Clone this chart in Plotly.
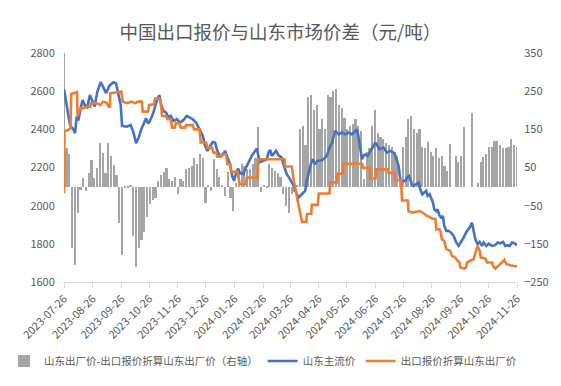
import pandas as pd
import plotly.graph_objects as go

start_date = "2023-07-26"
tick_labels = ["2023-07-26", "2023-08-26", "2023-09-26", "2023-10-26", "2023-11-26",
               "2023-12-26", "2024-01-26", "2024-02-26", "2024-03-26", "2024-04-26",
               "2024-05-26", "2024-06-26", "2024-07-26", "2024-08-26", "2024-09-26",
               "2024-10-26", "2024-11-26"]

# 山东出厂价-出口报价折算山东出厂价 (right axis), one value every 3 days from start
spread_values = [350, 100, 85, -160, -205, -70, -8, 22, -12, 35, 70, 22, 48, 113, 87, 35, 113, 79,
                 57, 30, -96, -180, -5, -5, 3, -130, -210, -160, -140, -120, -80, -45, -35, -30,
                 15, 30, 38, 50, 20, 15, 25, -20, 20, 15, 45, 50, 55, 75, 60, 85, 75, -42, 5, -12,
                 72, 45, 25, 5, -25, 38, -30, -65, 10, 40, 60, 55, 45, 45, 60, 75, 155, -15, 5, -5,
                 60, 50, 40, 35, 25, -20, -50, -70, -20, -15, 5, 150, 160, 110, 235, 240, 200, 215,
                 150, 176, 150, 240, 235, 250, 255, 215, 205, 180, 150, 160, 165, 177, 160, 145, 20,
                 90, 100, 160, 200, 140, 130, 125, 115, 110, 105, 90, 80, 30, 105, 130, 177, 185,
                 150, 140, 150, 103, 100, 118, 90, 80, 100, 75, 80, 55, 40, 112, 0, 80, 65, 80, 155,
                 0, 0, 193, 0, 10, 65, 78, 85, 105, 105, 120, 120, 110, 100, 100, 105, 125, 110, 105]

# 山东主流价: days after start, price
main_days = [0, 3.6, 6.5, 10, 11.9, 13.7, 15.5, 18, 20, 22.7, 25, 28, 30.6, 33, 36, 39.6, 42.5, 45.4,
             49, 53.3, 56.2, 58.7, 61.2, 62.7, 67.7, 72, 75, 77.8, 80.7, 83.5, 86.4, 88.6, 90.8, 92.9,
             95.8, 98.3, 100.8, 103, 104.8, 107.3, 110.2, 112.7, 115.2, 118.1, 121.7, 125.3, 128.9,
             132.5, 135.4, 139, 142.6, 146.2, 149.8, 152.3, 154.8, 157.7, 160.6, 163.1, 164.9, 167.8,
             170.3, 173.9, 176.4, 179.3, 181.5, 183.6, 185.8, 188, 190.1, 193.7, 195.5, 199.1, 202.7,
             206.3, 208.1, 209.9, 211.7, 215.3, 218.9, 220.7, 222.5, 224.3, 226.1, 229, 231.5, 235.1,
             236.9, 240.5, 244.1, 247.7, 250.6, 253.1, 256.7, 260.3, 262.1, 263.9, 266.4, 268.6,
             271.1, 273.6, 276.5, 280.1, 283.7, 286.6, 289.5, 290.3, 292.8, 296.4, 300, 303.6, 307.2,
             310.8, 314.4, 316.2, 318, 319.8, 321.6, 323.4, 325.2, 327.7, 330, 332.4, 334.2, 336,
             338.5, 340.7, 345, 348.6, 352.2, 355.8, 357.6, 359.4, 361.2, 363, 364.8, 368.4, 370.2,
             372.4, 373.8, 375.6, 377.4, 380.3, 382.8, 384.6, 386.8, 388.9, 391, 392.5, 394.7, 396.1,
             398.3, 399.7, 401.9, 403.3, 405.5, 406.9, 409, 410.5, 412.7, 415.2, 417.7, 420.6, 423.5,
             426, 428.5, 431.4, 434.3, 437.9, 440.4, 442.2, 444, 446.5, 448.7, 451.2, 453, 455.9,
             458.4, 462, 465.6, 468.1, 471, 473.9, 476.4, 479, 481.1, 483.6, 486.2, 489]
main_values = [2610, 2502, 2423, 2400, 2380, 2467, 2446, 2511, 2554, 2523, 2516, 2580, 2551, 2519,
               2598, 2647, 2620, 2589, 2628, 2647, 2641, 2589, 2528, 2418, 2414, 2423, 2383, 2327,
               2359, 2400, 2432, 2458, 2430, 2445, 2479, 2523, 2558, 2579, 2531, 2497, 2488, 2462,
               2470, 2444, 2453, 2435, 2449, 2470, 2462, 2453, 2435, 2400, 2366, 2313, 2287, 2313,
               2334, 2331, 2296, 2261, 2261, 2287, 2252, 2217, 2156, 2130, 2173, 2194, 2170, 2165,
               2191, 2226, 2261, 2287, 2299, 2261, 2229, 2235, 2243, 2278, 2292, 2261, 2269, 2287,
               2264, 2252, 2217, 2165, 2138, 2107, 2069, 2042, 2060, 2077, 2130, 2173, 2217, 2243,
               2217, 2235, 2235, 2243, 2261, 2304, 2331, 2348, 2392, 2374, 2383, 2374, 2383, 2374,
               2392, 2400, 2357, 2296, 2243, 2261, 2269, 2261, 2278, 2296, 2313, 2331, 2313, 2296,
               2304, 2278, 2287, 2278, 2264, 2234, 2208, 2138, 2130, 2130, 2147, 2156, 2130, 2112,
               2103, 2112, 2121, 2086, 2060, 2069, 2078, 2051, 2060, 2042, 2016, 1981, 1972, 1981,
               1946, 1938, 1946, 1894, 1868, 1868, 1859, 1841, 1807, 1789, 1807, 1833, 1862, 1885,
               1911, 1868, 1824, 1798, 1810, 1789, 1807, 1789, 1801, 1789, 1793, 1807, 1803, 1810,
               1789, 1793, 1789, 1807, 1803, 1793]

# 出口报价折算山东出厂价: days after start, price
export_days = [0, 0.5, 4, 7, 7.8, 14, 14.6, 16, 18, 21, 25.5, 28.5, 29, 35, 38, 39.6, 42, 46, 48.2,
               49.7, 50, 61.8, 63.4, 67.7, 73, 76.7, 80, 84, 85, 90.7, 92, 97.2, 98.3, 103, 104.4,
               105.9, 110.2, 111.6, 115.2, 116.7, 119.5, 120.6, 124.6, 126, 130.6, 131.8, 139, 140.4,
               146.2, 147.6, 153.4, 154.8, 159.9, 161.3, 164.2, 165.6, 169.2, 170.3, 175, 176.4,
               179.3, 180.4, 187.3, 188.7, 189.5, 196.5, 197.3, 208.8, 209.9, 238, 238.7, 246, 248,
               252, 257, 261.5, 262.3, 266.8, 267.5, 274, 275, 286.6, 287.4, 294.5, 295.3, 301,
               301.8, 321.9, 322.7, 330, 330.8, 336.3, 337, 349.6, 350.4, 357, 357.6, 364, 364.8,
               371, 372, 376, 381, 384.6, 388, 391.8, 395, 397.2, 401, 401.9, 405.5, 406.2, 408,
               410.5, 412.7, 417, 418.8, 422.4, 424, 427, 427.8, 432.1, 434, 435, 438, 440.4, 442.2,
               444, 446.5, 448.7, 450.1, 455, 456.6, 462.4, 463.1, 465.6, 469.2, 472.8, 475.3, 477.5,
               481.8, 484.7, 487.2, 489]
export_values = [2065, 2390, 2395, 2405, 2585, 2595, 2470, 2484, 2511, 2511, 2519, 2519, 2537, 2537,
                 2532, 2528, 2545, 2540, 2519, 2519, 2589, 2598, 2545, 2537, 2545, 2537, 2545, 2545,
                 2493, 2493, 2528, 2531, 2561, 2561, 2540, 2470, 2470, 2453, 2453, 2409, 2409, 2432,
                 2432, 2409, 2409, 2422, 2422, 2400, 2400, 2331, 2331, 2304, 2304, 2278, 2278, 2257,
                 2257, 2269, 2269, 2217, 2217, 2177, 2177, 2140, 2112, 2112, 2147, 2147, 2243, 2243,
                 2205, 2205, 2133, 2030, 1915, 1915, 1956, 1956, 2004, 2004, 2064, 2064, 2122, 2122,
                 2168, 2168, 2220, 2220, 2198, 2198, 2143, 2143, 2190, 2190, 2172, 2172, 2133, 2133,
                 2027, 2027, 1970, 1964, 1968, 1972, 1960, 1946, 1940, 1932, 1929, 1876, 1876, 1868,
                 1824, 1815, 1772, 1763, 1737, 1728, 1716, 1702, 1676, 1670, 1676, 1702, 1710, 1716,
                 1719, 1751, 1789, 1763, 1728, 1723, 1702, 1702, 1684, 1670, 1684, 1702, 1716, 1693,
                 1688, 1684, 1681, 1681]

start = pd.Timestamp(start_date)
spread_dates = pd.date_range(start, periods=len(spread_values), freq="3D")
main_dates = start + pd.to_timedelta(main_days, unit="D")
export_dates = start + pd.to_timedelta(export_days, unit="D")

FONT = "Noto Sans CJK SC"
GREY_TXT = "#595959"

fig = go.Figure()
fig.add_trace(go.Bar(
    x=spread_dates, y=spread_values, name="山东出厂价-出口报价折算山东出厂价（右轴）",
    marker=dict(color="#A5A5A5", line=dict(width=0)), width=1.8 * 86400000, yaxis="y"))
fig.add_trace(go.Scatter(
    x=main_dates, y=main_values, name="山东主流价", mode="lines",
    line=dict(color="#4472C4", width=2.6), yaxis="y2"))
fig.add_trace(go.Scatter(
    x=export_dates, y=export_values, name="出口报价折算山东出厂价", mode="lines",
    line=dict(color="#ED7D31", width=2.6), yaxis="y2"))

fig.update_layout(
    width=561, height=386,
    margin=dict(l=64, r=44, t=53, b=104, autoexpand=False),
    paper_bgcolor="white", plot_bgcolor="white",
    font=dict(family=FONT, size=11, color=GREY_TXT),
    title=dict(text="中国出口报价与山东市场价差（元/吨）", x=0.5, xref="container", xanchor="center",
               y=1 - 33 / 386, yref="container", yanchor="middle",
               font=dict(family=FONT, size=18.5, color=GREY_TXT)),
    bargap=0,
    showlegend=True,
    legend=dict(orientation="h", x=(4 - 64) / 453, xanchor="left", xref="paper",
                y=-(361 - 282) / 229, yref="paper", yanchor="middle",
                font=dict(family=FONT, size=10.5, color=GREY_TXT),
                itemwidth=30, tracegroupgap=0, bgcolor="rgba(0,0,0,0)"),
    xaxis=dict(type="date", range=[tick_labels[0], tick_labels[-1]],
               tickvals=tick_labels, ticktext=tick_labels, tickangle=-45,
               showgrid=False, zeroline=False, showline=True, linecolor="#D9D9D9", linewidth=1,
               ticks="outside", ticklen=5, tickcolor="#D9D9D9",
               tickfont=dict(family=FONT, size=11, color=GREY_TXT)),
    yaxis=dict(side="right", range=[-250, 350], tickvals=[-250, -150, -50, 50, 150, 250, 350],
               showgrid=False, zeroline=False, showline=False, ticks="outside", ticklen=4,
               tickcolor="rgba(0,0,0,0)",
               tickfont=dict(family=FONT, size=11, color=GREY_TXT)),
    yaxis2=dict(side="left", overlaying="y", range=[1600, 2800], dtick=200,
                showgrid=False, zeroline=False, showline=False,
                ticks="outside", ticklen=6, tickcolor="rgba(0,0,0,0)",
                tickfont=dict(family=FONT, size=11, color=GREY_TXT)),
)

fig.write_html("out.html", config={"displayModeBar": False},
               post_script="document.body.style.margin='0';")
